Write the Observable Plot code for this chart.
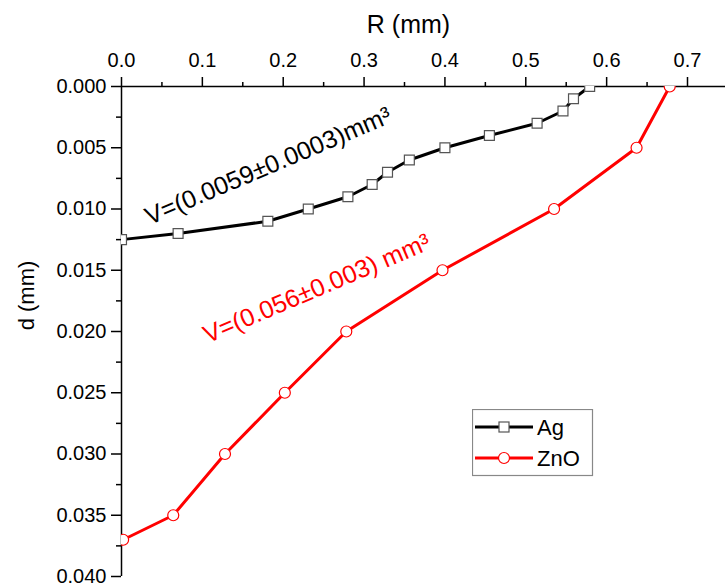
<!DOCTYPE html>
<html><head><meta charset="utf-8">
<script src="https://cdn.jsdelivr.net/npm/d3@7"></script>
<script src="https://cdn.jsdelivr.net/npm/@observablehq/plot@0.6"></script>
<style>
body{margin:0;background:#fff;font-family:Arial,"Liberation Sans",sans-serif;}
#wrap{position:relative;width:725px;height:583px;overflow:hidden;}
#legend{position:absolute;left:472px;top:409px;}
</style></head><body><div id="wrap"></div>
<script>
// Ag crater profile
const agR = [0, 0.070, 0.181, 0.231, 0.280, 0.310, 0.329, 0.356, 0.400, 0.455, 0.514, 0.546, 0.559, 0.579];
const agD = [0.0125, 0.012, 0.011, 0.010, 0.009, 0.008, 0.007, 0.006, 0.005, 0.004, 0.003, 0.002, 0.001, 0.000];
// ZnO crater profile
const znoR = [0.002, 0.064, 0.128, 0.202, 0.278, 0.397, 0.535, 0.637, 0.678];
const znoD = [0.037, 0.035, 0.030, 0.025, 0.020, 0.015, 0.010, 0.005, 0.000];
// ticks
const xTicks = [0, 0.1, 0.2, 0.3, 0.4, 0.5, 0.6, 0.7];
const xMinor = [0.05, 0.15, 0.25, 0.35, 0.45, 0.55, 0.65];
const yTicks = [0, 0.005, 0.010, 0.015, 0.020, 0.025, 0.030, 0.035, 0.040];
const yMinor = [0.0025, 0.0075, 0.0125, 0.0175, 0.0225, 0.0275, 0.0325, 0.0375];
// annotations
const noteText = ["V=(0.0059\u00b10.0003)mm\u00b3", "V=(0.056\u00b10.003) mm\u00b3"];
const noteR = [0.1815, 0.2415];
const noteD = [0.0065, 0.0165];
const noteColor = ["#000000", "#ff0000"];
const seriesNames = ["Ag", "ZnO"];
const seriesColors = ["#000000", "#ff0000"];

const ag = agR.map((r, i) => ({r, d: agD[i]}));
const zno = znoR.map((r, i) => ({r, d: znoD[i]}));
const notes = noteText.map((t, i) => ({t, r: noteR[i], d: noteD[i], c: noteColor[i]}));

const font = 'Arial, "Liberation Sans", sans-serif';
const chart = Plot.plot({
  width: 725, height: 583,
  marginTop: 86, marginLeft: 121, marginRight: 0, marginBottom: 7,
  x: {domain: [0, 0.747]},
  y: {domain: [0, 0.04], reverse: true},
  style: {fontFamily: font, fontSize: "20px", color: "#000", background: "#fff", overflow: "visible"},
  marks: [
    Plot.ruleY([0], {stroke: "#000", strokeWidth: 1.5}),
    Plot.ruleX([0], {stroke: "#000", strokeWidth: 1.5}),
    Plot.axisX(xTicks, {anchor: "top", tickSize: 10, tickPadding: 10, tickFormat: d => d.toFixed(1), label: null, fontSize: 20, strokeWidth: 1.5}),
    Plot.axisX(xMinor, {anchor: "top", tickSize: 5, tickFormat: () => "", label: null, strokeWidth: 1.5}),
    Plot.axisY(yTicks, {anchor: "left", tickSize: 10, tickPadding: 5, tickFormat: d => d.toFixed(3), label: null, fontSize: 20, strokeWidth: 1.5}),
    Plot.axisY(yMinor, {anchor: "left", tickSize: 5, tickFormat: () => "", label: null, strokeWidth: 1.5}),
    Plot.text(["R (mm)"], {frameAnchor: "top", textAnchor: "middle", lineAnchor: "top", dx: -15, dy: -71, fontSize: 25, fill: "#000"}),
    Plot.text(["d (mm)"], {frameAnchor: "left", textAnchor: "middle", lineAnchor: "middle", rotate: -90, dx: -95, dy: -36, fontSize: 22, fill: "#000"}),
    Plot.line(ag, {x: "r", y: "d", stroke: seriesColors[0], strokeWidth: 3, clip: true}),
    Plot.dot(ag, {x: "r", y: "d", symbol: "square", r: 5.6, fill: "#fff", stroke: "#555", strokeWidth: 1.2, clip: true}),
    Plot.line(zno, {x: "r", y: "d", stroke: seriesColors[1], strokeWidth: 3, clip: true}),
    Plot.dot(zno, {x: "r", y: "d", symbol: "circle", r: 5.5, fill: "#fff", stroke: seriesColors[1], strokeWidth: 1.2, clip: true}),
    Plot.text(notes, {x: "r", y: "d", text: "t", fill: "c", rotate: -23, fontSize: 25})
  ]
});
document.getElementById("wrap").appendChild(chart);

// legend
const lg = d3.select("#wrap").append("svg").attr("id", "legend").attr("width", 122).attr("height", 68);
lg.append("rect").attr("x", 0.5).attr("y", 0.5).attr("width", 120).attr("height", 66).attr("fill", "#fff").attr("stroke", "#888").attr("stroke-width", 1.2);
seriesNames.forEach((name, i) => {
  const y = 18 + i * 31;
  lg.append("line").attr("x1", 3).attr("x2", 61).attr("y1", y).attr("y2", y).attr("stroke", seriesColors[i]).attr("stroke-width", 3);
  if (i === 0) lg.append("rect").attr("x", 27).attr("y", y - 5).attr("width", 10).attr("height", 10).attr("fill", "#fff").attr("stroke", "#555").attr("stroke-width", 1.2);
  else lg.append("circle").attr("cx", 32).attr("cy", y).attr("r", 5.5).attr("fill", "#fff").attr("stroke", seriesColors[i]).attr("stroke-width", 1.2);
  lg.append("text").attr("x", 65).attr("y", y + 7.5).attr("font-size", 22).attr("font-family", font).attr("fill", "#000").text(name);
});
</script></body></html>
